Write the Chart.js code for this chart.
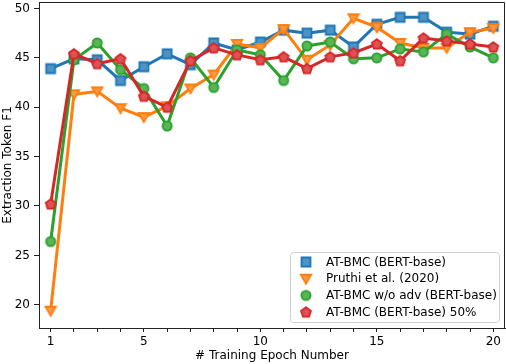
<!DOCTYPE html>
<html>
<head>
<meta charset="utf-8">
<script src="https://cdn.jsdelivr.net/npm/chart.js@4"></script>
<style>
  body { margin: 0; background: #fff; }
  #wrap { width: 506px; height: 364px; }
</style>
</head>
<body>
<div id="wrap"><canvas id="lineChart1"></canvas></div>
<script>
var epochs = [1,2,3,4,5,6,7,8,9,10,11,12,13,14,15,16,17,18,19,20];
var xTickLabels = [1, 5, 10, 15, 20];
var yTicks = [20, 25, 30, 35, 40, 45, 50];

var seriesNames = ['AT-BMC (BERT-base)', 'Pruthi et al. (2020)', 'AT-BMC w/o adv (BERT-base)', 'AT-BMC (BERT-base) 50%'];
var atBmc      = [43.9, 44.9, 44.8, 42.7, 44.1, 45.4, 44.3, 46.5, 45.8, 46.6, 47.8, 47.5, 47.8, 46.1, 48.4, 49.1, 49.1, 47.6, 47.4, 48.2];
var pruthi     = [19.4, 41.3, 41.6, 39.9, 39.0, 40.1, 41.9, 43.3, 46.4, 46.0, 47.9, 44.8, 46.3, 49.0, 48.1, 46.5, 46.0, 46.0, 47.6, 48.0];
var atBmcNoAdv = [26.4, 44.8, 46.5, 43.8, 41.9, 38.1, 45.0, 42.0, 45.8, 45.3, 42.7, 46.2, 46.6, 44.9, 45.0, 45.9, 45.6, 47.4, 46.1, 45.0];
var atBmc50    = [30.2, 45.4, 44.4, 44.9, 41.1, 40.0, 44.7, 46.0, 45.3, 44.8, 45.1, 43.9, 45.1, 45.5, 46.4, 44.7, 47.0, 46.7, 46.4, 46.1];

var colors = ['#1f77b4', '#ff7f0e', '#2ca02c', '#d62728'];
var fillColors = ['#4d93c6', '#ff9a40', '#58b558', '#de5253'];

// small canvases used as point markers (matplotlib-like shapes)
function makeMarker(shape, color, fill) {
    var s = 14;
    var c = document.createElement('canvas');
    c.width = s; c.height = s;
    var g = c.getContext('2d');
    g.beginPath();
    if (shape === 'square') {
        g.rect(2.5, 2.5, 9, 9);
    } else if (shape === 'tri') {
        g.moveTo(1.8, 3); g.lineTo(12.2, 3); g.lineTo(7, 12); g.closePath();
    } else if (shape === 'circle') {
        g.arc(7, 7, 4.6, 0, Math.PI * 2);
    } else {
        for (var i = 0; i < 5; i++) {
            var a = -Math.PI / 2 + i * 2 * Math.PI / 5;
            var px = 7 + 5.2 * Math.cos(a), py = 7.4 + 5.2 * Math.sin(a);
            if (i === 0) g.moveTo(px, py); else g.lineTo(px, py);
        }
        g.closePath();
    }
    g.fillStyle = fill;
    g.fill();
    g.lineWidth = 1.8;
    g.strokeStyle = color;
    g.stroke();
    return c;
}

var markers = [
    makeMarker('square', colors[0], fillColors[0]),
    makeMarker('tri', colors[1], fillColors[1]),
    makeMarker('circle', colors[2], fillColors[2]),
    makeMarker('pent', colors[3], fillColors[3])
];

function toPoints(vals) {
    return vals.map(function (v, i) { return { x: epochs[i], y: v }; });
}

var allSeries = [atBmc, pruthi, atBmcNoAdv, atBmc50];
var datasets = allSeries.map(function (vals, i) {
    return {
        label: seriesNames[i],
        data: toPoints(vals),
        borderColor: colors[i],
        borderWidth: 3,
        tension: 0,
        fill: false,
        pointStyle: markers[i],
        pointRadius: 6,
        pointHoverRadius: 6,
        order: 3 - i
    };
});

// closes the box on top and right side
var frameBox = {
    id: 'frameBox',
    afterDatasetsDraw: function (chart) {
        var a = chart.chartArea, g = chart.ctx;
        g.save();
        g.strokeStyle = '#222';
        g.lineWidth = 1;
        g.beginPath();
        g.moveTo(a.left, a.top + 0.5);
        g.lineTo(a.right - 0.5, a.top + 0.5);
        g.lineTo(a.right - 0.5, a.bottom);
        g.stroke();
        g.restore();
    }
};

// legend in the lower right corner of the plot
var innerLegend = {
    id: 'innerLegend',
    afterDraw: function (chart) {
        var a = chart.chartArea, g = chart.ctx;
        var w = 209, h = 70;
        var x0 = a.right - 6 - w, y0 = a.bottom - 6 - h;
        g.save();
        g.beginPath();
        g.roundRect(x0 + 0.5, y0 + 0.5, w, h, 3);
        g.fillStyle = 'rgba(255,255,255,0.8)';
        g.fill();
        g.strokeStyle = '#d0d0d0';
        g.lineWidth = 1;
        g.stroke();
        g.font = '12px "DejaVu Sans"';
        g.fillStyle = '#000';
        g.textBaseline = 'middle';
        chart.data.datasets.forEach(function (ds, i) {
            var cy = y0 + 10 + i * 16.7;
            g.drawImage(ds.pointStyle, x0 + 16 - 7, cy - 7);
            g.fillText(ds.label, x0 + 36, cy + 0.5);
        });
        g.restore();
    }
};

var ctx2 = document.getElementById('lineChart1');

var myChart1 = new Chart(ctx2, {
    type: 'line',
    data: { datasets: datasets },
    plugins: [frameBox, innerLegend],
    options: {
        responsive: true,
        maintainAspectRatio: false,
        animation: false,
        layout: { autoPadding: false, padding: { top: 2, right: 1, left: 0, bottom: 0 } },
        plugins: {
            legend: { display: false },
            tooltip: { enabled: false }
        },
        scales: {
            x: {
                type: 'linear',
                min: 0.5,
                max: 20.5,
                afterBuildTicks: function (axis) {
                    axis.ticks = epochs.map(function (v) { return { value: v }; });
                },
                afterFit: function (axis) {
                    axis.height = 36;
                    axis.paddingLeft = 0;
                    axis.paddingRight = 0;
                },
                ticks: {
                    autoSkip: false,
                    maxRotation: 0,
                    padding: 3,
                    color: '#000',
                    font: { family: 'DejaVu Sans', size: 12 },
                    callback: function (v) { return xTickLabels.indexOf(v) >= 0 ? String(v) : ''; }
                },
                grid: { drawOnChartArea: false, tickLength: 4, color: '#222' },
                border: { color: '#222', width: 1 },
                title: {
                    display: true,
                    text: '# Training Epoch Number',
                    color: '#000',
                    font: { family: 'DejaVu Sans', size: 12 },
                    padding: { top: 0, bottom: 1 }
                }
            },
            y: {
                min: 17.65,
                max: 50.65,
                afterBuildTicks: function (axis) {
                    axis.ticks = yTicks.map(function (v) { return { value: v }; });
                },
                afterFit: function (axis) {
                    axis.width = 39;
                    axis.paddingTop = 0;
                    axis.paddingBottom = 0;
                },
                ticks: {
                    padding: 4,
                    color: '#000',
                    font: { family: 'DejaVu Sans', size: 12 }
                },
                grid: { drawOnChartArea: false, tickLength: 5, color: '#222' },
                border: { color: '#222', width: 1 },
                title: {
                    display: true,
                    text: 'Extraction Token F1',
                    color: '#000',
                    font: { family: 'DejaVu Sans', size: 12 },
                    padding: { top: 1, bottom: 0 }
                }
            }
        }
    }
});
</script>
</body>
</html>
